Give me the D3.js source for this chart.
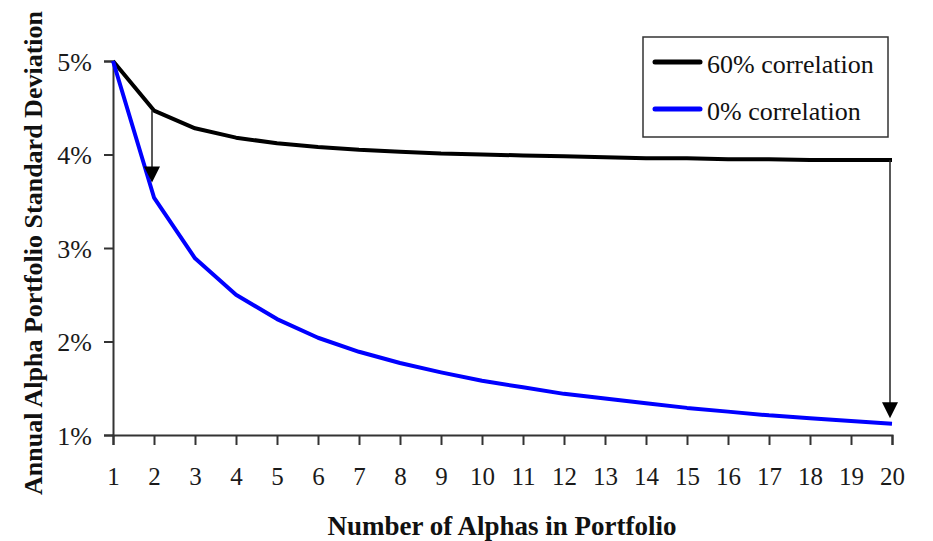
<!DOCTYPE html>
<html><head><meta charset="utf-8">
<script src="https://cdn.jsdelivr.net/npm/d3@7"></script>
<style>body{margin:0;background:#fff;} svg{display:block;}</style></head>
<body>
<svg id="chart" width="933" height="541"></svg>
<script>
const alphas = [1,2,3,4,5,6,7,8,9,10,11,12,13,14,15,16,17,18,19,20];
const corr60 = [5.00,4.47,4.28,4.18,4.12,4.08,4.05,4.03,4.01,4.00,3.99,3.98,3.97,3.96,3.96,3.95,3.95,3.94,3.94,3.94];
const corr0  = [5.00,3.54,2.89,2.50,2.24,2.04,1.89,1.77,1.67,1.58,1.51,1.44,1.39,1.34,1.29,1.25,1.21,1.18,1.15,1.12];
const yTicks = [1,2,3,4,5];
const seriesNames = ["60% correlation","0% correlation"];
const seriesColors = ["#000000","#0000ff"];
const arrows = [{x:2, from:4.47, to:3.70},{x:20, from:3.94, to:1.18}];

const FONT = "Liberation Serif";
const svg = d3.select("#chart");
const x = d3.scaleLinear().domain([1,20]).range([113,892]);
const y = d3.scaleLinear().domain([1,5]).range([435,61]);

const xAxis = svg.append("g").attr("transform","translate(0,435)")
  .call(d3.axisBottom(x).tickValues(alphas).tickFormat(d3.format("d")).tickSize(10).tickPadding(14));
const yAxis = svg.append("g").attr("transform","translate(113,0)")
  .call(d3.axisLeft(y).tickValues(yTicks).tickFormat(d=>d+"%").tickSize(9).tickPadding(12));
[xAxis,yAxis].forEach(g=>{
  g.attr("font-family",FONT).attr("font-size",null);
  g.select(".domain").attr("stroke","#333").attr("stroke-width",2);
  g.selectAll(".tick line").attr("stroke","#333").attr("stroke-width",2);
  g.selectAll(".tick text").attr("fill","#1a1a1a").attr("font-family",FONT);
});
xAxis.selectAll(".tick text").attr("font-size",25).attr("y",50).attr("dy",0);
yAxis.selectAll(".tick text").attr("font-size",26).attr("dy","0.35em");

const line = d3.line().x((d,i)=>x(alphas[i])).y(d=>y(d));
[corr60, corr0].forEach((s,k)=>{
  svg.append("path").datum(s).attr("d",line).attr("fill","none")
    .attr("stroke",seriesColors[k]).attr("stroke-width",4).attr("stroke-linejoin","round");
});

arrows.forEach(a=>{
  const ax = x(a.x)-2, y0 = y(a.from), y1 = y(a.to);
  svg.append("line").attr("x1",ax).attr("x2",ax).attr("y1",y0).attr("y2",y1-14)
    .attr("stroke","#222").attr("stroke-width",1.5);
  svg.append("path").attr("d",`M${ax-8},${y1-16}L${ax+8},${y1-16}L${ax},${y1}Z`).attr("fill","#000");
});

const lg = svg.append("g");
lg.append("rect").attr("x",643).attr("y",37).attr("width",245).attr("height",100)
  .attr("fill","#fff").attr("stroke","#333").attr("stroke-width",1.5);
seriesNames.forEach((n,i)=>{
  const ly = 62 + i*47;
  lg.append("line").attr("x1",655).attr("x2",700).attr("y1",ly).attr("y2",ly)
    .attr("stroke",seriesColors[i]).attr("stroke-width",5).attr("stroke-linecap","round");
  lg.append("text").attr("x",707).attr("y",ly+11).text(n)
    .attr("font-family",FONT).attr("font-size",26).attr("fill","#111");
});

svg.append("text").attr("x",502).attr("y",535).attr("text-anchor","middle")
  .attr("font-family",FONT).attr("font-size",27).attr("font-weight","bold").attr("fill","#111")
  .text("Number of Alphas in Portfolio");
svg.append("text").attr("transform","translate(42,253) rotate(-90)").attr("text-anchor","middle")
  .attr("font-family",FONT).attr("font-size",26).attr("font-weight","bold").attr("fill","#111")
  .text("Annual Alpha Portfolio Standard Deviation");
</script>
</body></html>
